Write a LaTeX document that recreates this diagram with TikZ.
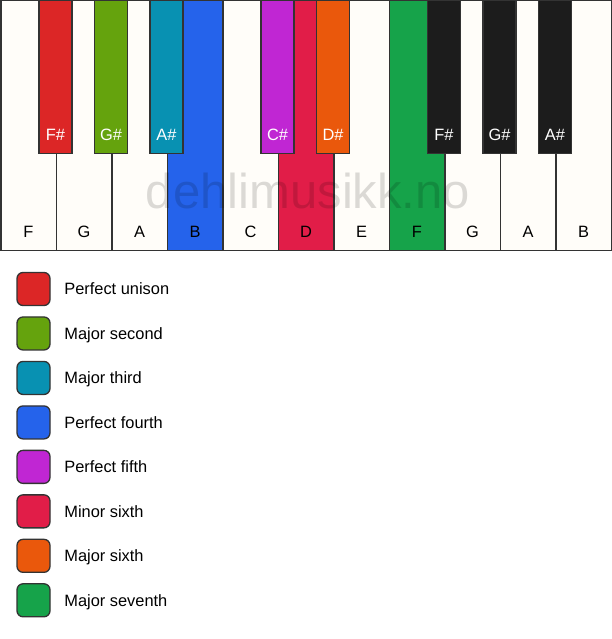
\documentclass[tikz,border=0pt]{standalone}
\usepackage{fontspec}
\setmainfont{Liberation Sans}
\usetikzlibrary{positioning}
\definecolor{mline}{HTML}{333333}
\definecolor{mivory}{HTML}{FFFDF9}
\definecolor{mblack}{HTML}{1C1C1C}
\definecolor{mred}{HTML}{DC2626}
\definecolor{mlime}{HTML}{65A30D}
\definecolor{mcyan}{HTML}{0891B2}
\definecolor{mblue}{HTML}{2563EB}
\definecolor{mfuchsia}{HTML}{C026D3}
\definecolor{mrose}{HTML}{E11D48}
\definecolor{morange}{HTML}{EA580C}
\definecolor{mgreen}{HTML}{16A34A}
\tikzset{wkey/.style = {draw = mline, line width = 1.5pt, inner sep = 0,
    minimum width = 55.5pt, minimum height = 249.5pt, anchor = north west}}
\tikzset{bkey/.style = {draw = mline, line width = 1.5pt, inner sep = 0,
    minimum width = 33pt, minimum height = 153pt, anchor = north}}
\tikzset{keytext/.style = {anchor = base, inner sep = 0, font = \fontsize{16.4}{20}\selectfont}}
\tikzset{swatch/.style = {draw = mline, line width = 1.3pt, rounded corners = 6pt,
    minimum size = 33pt, inner sep = 0}}
\tikzset{legendtext/.style = {inner sep = 0, text height = 15pt, text depth = 3.3pt,
    font = \fontsize{16.4}{20}\selectfont}}
\tikzset{wmark/.style = {anchor = base, inner sep = 0, text = black, text opacity = 0.14,
    font = \fontsize{49}{52}\selectfont}}

\begin{document}
\begin{tikzpicture}[x=1pt, y=-1pt]
  \useasboundingbox (0, 0) rectangle (611, 639);

  % white keys
  \foreach \n/\c [count=\i from 0] in {F/mivory, G/mivory, A/mivory, B/mblue,
      C/mivory, D/mrose, E/mivory, F/mgreen, G/mivory, A/mivory, B/mivory} {
    \node [wkey, fill = \c] (w\i) at (55.5*\i, 0) {};
    \node [keytext] (wl\i) at ([yshift = 13.5pt]w\i.south) {\n};
  }

  % black keys
  \foreach \k/\n/\c in {1/F\#/mred, 2/G\#/mlime, 3/A\#/mcyan, 5/C\#/mfuchsia,
      6/D\#/morange, 8/F\#/mblack, 9/G\#/mblack, 10/A\#/mblack} {
    \node [bkey, fill = \c] (b\k) at (55.5*\k, 0) {};
    \node [keytext, text = white] (bl\k) at ([yshift = 14pt]b\k.south) {\n};
  }

  \node [wmark] (wm) at (308, 208) {dehlimusikk.no};

  % legend
  \foreach \t/\c [count=\i from 0] in {Perfect unison/mred, Major second/mlime,
      Major third/mcyan, Perfect fourth/mblue, Perfect fifth/mfuchsia,
      Minor sixth/mrose, Major sixth/morange, Major seventh/mgreen} {
    \node [swatch, fill = \c] (s\i) at (33.5, 289 + 44.47*\i) {};
    \node [legendtext, right = 13.5pt of s\i] (t\i) {\t};
  }
\end{tikzpicture}
\end{document}
